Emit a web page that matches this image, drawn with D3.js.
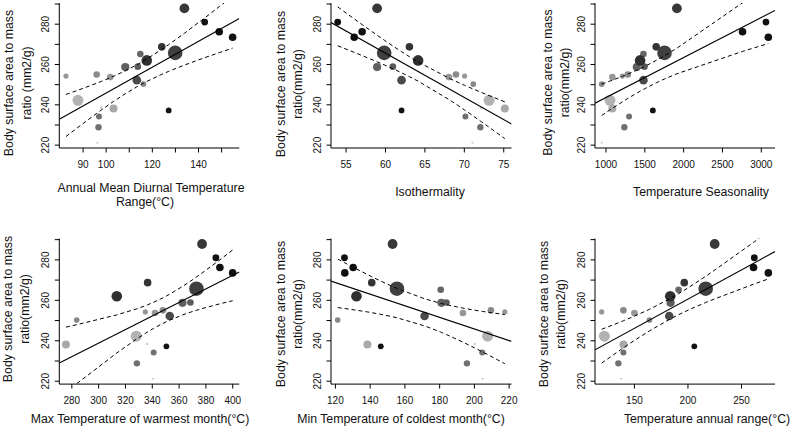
<!DOCTYPE html>
<html><head><meta charset="utf-8">
<script src="https://cdn.jsdelivr.net/npm/d3@7"></script>
<style>
body{margin:0;background:#fff}
svg{display:block}
text{font-family:"Liberation Sans", Arial, Helvetica, sans-serif}
</style>
</head><body>
<svg id="chart" width="793" height="431"></svg>
<script>
// ---- data (one entry per population, same order in every array) ----
const populations = ["a","b","c","d","e","f","g","h","i","j","k","l","m","n","o","p","q","r","s","t","u","v"];
const surfaceMassRatio = [254.0,242.0,254.8,234.0,228.6,221.0,238.2,237.9,253.5,258.5,252.0,258.7,265.0,250.0,261.8,268.5,237.0,265.5,287.6,280.8,276.0,273.3];
const sampleWeight = [2.6,5.5,3.3,3.0,3.2,1.0,1.2,4.0,3.3,4.1,4.3,3.3,3.3,2.8,5.3,3.8,2.9,7.3,4.9,3.4,3.8,3.8];
const shadeValue = [0.31,0.17,0.37,0.5,0.5,0.06,0.06,0.22,0.31,0.58,0.69,0.61,0.55,0.38,0.82,0.8,0.97,0.74,0.78,0.98,0.98,0.98];

const diurnalRange   = [82.8,88.0,96.1,97.1,96.9,96.4,98.1,103.4,102.0,108.5,113.5,113.9,115.0,116.4,117.8,124.3,127.3,130.1,134.1,142.9,149.2,155.0];
const isothermality  = [70.1,73.2,69.0,70.2,72.1,71.1,72.2,75.2,68.1,59.0,62.1,61.0,60.3,71.2,64.2,63.1,62.1,59.9,59.0,54.0,57.1,56.1];
const seasonality    = [1217,1058,1287,1304,1243,951,1070,1088,1088,1403,1489,1502,1489,951,1446,1653,1610,1760,1920,3066,2765,3097];
const maxWarmest     = [335.2,328.4,348.3,341.4,328.9,340.9,336.6,276.0,342.4,362.9,353.4,368.8,372.6,284.0,313.9,336.9,350.9,373.3,377.5,387.8,390.8,400.3];
const minColdest     = [217.8,207.9,209.8,204.8,196.0,205.0,200.5,138.7,193.7,181.3,171.6,184.2,180.9,121.6,132.4,141.2,146.4,155.7,153.2,125.5,130.5,125.7];
const annualRange    = [119.9,122.4,140.2,140.2,135.5,138.0,138.5,140.2,150.5,184.2,183.0,184.6,191.7,164.5,183.9,197.0,206.4,217.0,225.4,262.4,261.7,275.5];

// ---- ticks ----
const yTicks = [220,230,240,250,260,270,280,290];
const yTickLabels = [220,240,260,280];
const ticksDiurnal = [90,100,110,120,130,140,150];
const labelsDiurnal = [90,100,120,140];
const ticksIso = [55,60,65,70,75];
const ticksSeason = [1000,1500,2000,2500,3000];
const ticksMax = [280,300,320,340,360,380,400];
const ticksMin = [120,140,160,180,200,220];
const ticksRange = [150,200,250];

// ---- layout ----
const svg = d3.select("#chart");
const cols = [[59.3,239.3],[331,511.5],[595,775]];
const rows = [[3,148],[238.6,384.1]];
const FONT_TICK = 10, FONT_TITLE = 12.3;

const panels = [
  {x: diurnalRange, c:0, r:0, ticks: ticksDiurnal, labels: labelsDiurnal,
   title:["Annual Mean Diurnal Temperature","Range(°C)"], tx:[151,145], ty:[192,206],
   ytitle:["Body surface area to mass","ratio (mm2/g)"], ytx:[9,26.7], yty:83},
  {x: isothermality, c:1, r:0, ticks: ticksIso, labels: ticksIso,
   title:["Isothermality"], tx:[430], ty:[196],
   ytitle:["Body surface area to mass","ratio(mm2/g)"], ytx:[280.7,297.3], yty:84},
  {x: seasonality, c:2, r:0, ticks: ticksSeason, labels: ticksSeason,
   title:["Temperature Seasonality"], tx:[701], ty:[196],
   ytitle:["Body surface area to mass","ratio(mm2/g)"], ytx:[547.7,564.3], yty:82.5},
  {x: maxWarmest, c:0, r:1, ticks: ticksMax, labels: ticksMax,
   title:["Max Temperature of warmest month(°C)"], tx:[140], ty:[423],
   ytitle:["Body surface area to mass","ratio(mm2/g)"], ytx:[7.5,24.2], yty:309},
  {x: minColdest, c:1, r:1, ticks: ticksMin, labels: ticksMin,
   title:["Min Temperature of coldest month(°C)"], tx:[401], ty:[423],
   ytitle:["Body surface area to mass","ratio(mm2/g)"], ytx:[280.7,297.3], yty:314},
  {x: annualRange, c:2, r:1, ticks: ticksRange, labels: ticksRange,
   title:["Temperature annual range(°C)"], tx:[707], ty:[423],
   ytitle:["Body surface area to mass","ratio(mm2/g)"], ytx:[543.5,560.2], yty:314}
];

function padded(ext){ const d = ext[1]-ext[0]; return [ext[0]-0.04*d, ext[1]+0.04*d]; }
const shade = d3.scaleLinear().domain([0,1]).range(["#d4d4d4","#0c0c0c"]).interpolate(d3.interpolateRgb);
const rScale = d3.scaleLinear().domain([0,1]).range([0,1]);

// t quantile (0.975) by Cornish-Fisher expansion
function t975(df){
  const z = 1.959964;
  return z + (z**3+z)/(4*df) + (5*z**5+16*z**3+3*z)/(96*df*df) + (3*z**7+19*z**5+17*z**3-15*z)/(384*df**3);
}

const yDomain = padded(d3.extent(surfaceMassRatio));

panels.forEach((p,idx)=>{
  const [x0,x1] = cols[p.c], [y0,y1] = rows[p.r];
  const x = d3.scaleLinear().domain(padded(d3.extent(p.x))).range([x0,x1]);
  const y = d3.scaleLinear().domain(yDomain).range([y1,y0]);
  const g = svg.append("g");
  const clipId = "clip"+idx;
  svg.append("clipPath").attr("id",clipId).append("rect")
    .attr("x",x0).attr("y",y0).attr("width",x1-x0).attr("height",y1-y0);

  const pts = p.x.map((xv,i)=>({x:xv,y:surfaceMassRatio[i],w:sampleWeight[i],s:shadeValue[i]}));
  g.append("g").attr("clip-path",`url(#${clipId})`).selectAll("circle").data(pts).join("circle")
    .attr("cx",d=>x(d.x)).attr("cy",d=>y(d.y)).attr("r",d=>rScale(d.w))
    .attr("fill",d=>shade(d.s));

  // OLS fit + 95% confidence band
  const n = pts.length;
  const mx = d3.mean(pts,d=>d.x), my = d3.mean(pts,d=>d.y);
  const sxx = d3.sum(pts,d=>(d.x-mx)**2), sxy = d3.sum(pts,d=>(d.x-mx)*(d.y-my));
  const b = sxy/sxx, a = my - b*mx;
  const rss = d3.sum(pts,d=>(d.y-a-b*d.x)**2);
  const se = Math.sqrt(rss/(n-2));
  const tq = t975(n-2);
  const xs = pts.map(d=>d.x).sort((u,v)=>u-v);
  const band = xs.map(xv=>{
    const f = a+b*xv, h = tq*se*Math.sqrt(1/n + (xv-mx)**2/sxx);
    return {x:xv, lo:f-h, hi:f+h};
  });
  const lg = g.append("g").attr("clip-path",`url(#${clipId})`).attr("fill","none").attr("stroke","#000");
  const dom = x.domain();
  lg.append("line").attr("x1",x(dom[0])).attr("y1",y(a+b*dom[0])).attr("x2",x(dom[1])).attr("y2",y(a+b*dom[1]))
    .attr("stroke-width",1.1);
  lg.append("path").attr("d",d3.line().x(d=>x(d.x)).y(d=>y(d.hi))(band)).attr("stroke-dasharray","4,3").attr("stroke-width",1);
  lg.append("path").attr("d",d3.line().x(d=>x(d.x)).y(d=>y(d.lo))(band)).attr("stroke-dasharray","4,3").attr("stroke-width",1);

  // axes
  const yAx = g.append("g").attr("transform",`translate(${x0},0)`)
    .call(d3.axisLeft(y).tickValues(yTicks).tickSize(4.5).tickSizeOuter(0)
      .tickFormat(d=>yTickLabels.includes(d)?d:""));
  yAx.select(".domain").remove();
  yAx.attr("font-family",null).attr("font-size",FONT_TICK);
  yAx.selectAll("text").attr("x",null).attr("dy","0.35em").attr("text-anchor","middle")
    .attr("transform","translate(-14,0) rotate(-90)").attr("fill","#111");

  const labs = p.labels;
  const xAx = g.append("g").attr("transform",`translate(0,${y1})`)
    .call(d3.axisBottom(x).tickValues(p.ticks).tickSize(4.5).tickSizeOuter(0)
      .tickFormat(d=>labs.includes(d)?d:""));
  xAx.select(".domain").remove();
  xAx.attr("font-family",null).attr("font-size",FONT_TICK);
  xAx.selectAll("text").attr("y",16.5).attr("dy","0.35em").attr("fill","#111");

  // L-shaped box
  g.append("path").attr("d",`M${x0},${y0}V${y1}H${x1}`).attr("fill","none").attr("stroke","#000").attr("stroke-width",1);

  // titles
  p.title.forEach((t,i)=>{
    g.append("text").attr("x",p.tx[i]).attr("y",p.ty[i]).attr("text-anchor","middle")
      .attr("font-size",FONT_TITLE).attr("fill","#111").text(t);
  });
  p.ytitle.forEach((t,i)=>{
    g.append("text").attr("transform",`translate(${p.ytx[i]},${p.yty}) rotate(-90)`)
      .attr("dy","0.35em").attr("text-anchor","middle")
      .attr("font-size",FONT_TITLE).attr("fill","#111").text(t);
  });
});
</script>
</body></html>
